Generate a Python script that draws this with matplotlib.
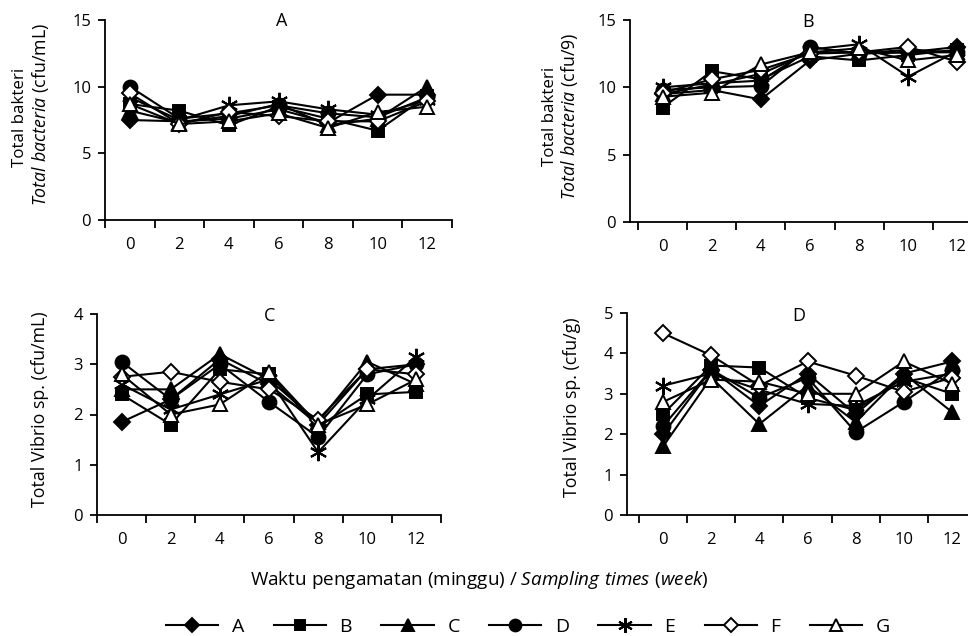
import matplotlib
matplotlib.use("Agg")
import matplotlib.pyplot as plt
from matplotlib.lines import Line2D

plt.rcParams['font.family'] = ['Open Sans', 'DejaVu Sans']
plt.rcParams['mathtext.fontset'] = 'custom'
plt.rcParams['mathtext.it'] = 'Open Sans:italic'
plt.rcParams['mathtext.rm'] = 'Open Sans'

weeks = [0, 2, 4, 6, 8, 10, 12]
groups = ['A', 'B', 'C', 'D', 'E', 'F', 'G']

# total bacteria, water (cfu/mL)
bact_water = {
    'A': [7.5, 7.4, 7.6, 8.3, 7.3, 9.4, 9.4],
    'B': [8.7, 8.2, 7.1, 8.5, 7.6, 6.7, 9.3],
    'C': [8.2, 7.3, 7.8, 8.7, 7.1, 7.6, 10.0],
    'D': [10.0, 7.6, 8.0, 8.6, 8.0, 7.7, 9.2],
    'E': [9.2, 7.5, 8.6, 8.9, 8.3, 7.9, 9.0],
    'F': [9.5, 7.2, 8.1, 7.8, 7.4, 7.4, 8.9],
    'G': [8.7, 7.2, 7.4, 8.0, 6.9, 8.1, 8.5],
}
# total bacteria, sediment (cfu/g)
bact_sed = {
    'A': [9.5, 9.8, 9.1, 12.0, 12.5, 12.6, 13.0],
    'B': [8.5, 11.2, 10.6, 12.3, 12.0, 12.4, 12.8],
    'C': [9.5, 10.2, 11.0, 12.6, 12.6, 12.6, 12.6],
    'D': [9.8, 10.0, 10.1, 13.0, 12.5, 12.8, 12.6],
    'E': [10.0, 10.3, 10.5, 12.8, 13.2, 10.8, 12.7],
    'F': [9.6, 10.6, 11.3, 12.5, 12.6, 13.0, 11.9],
    'G': [9.3, 9.6, 11.7, 12.6, 12.9, 12.0, 12.4],
}
# total Vibrio, water (cfu/mL)
vib_water = {
    'A': [1.85, 2.3, 3.1, 2.6, 1.8, 2.9, 3.0],
    'B': [2.4, 1.8, 2.9, 2.8, 1.75, 2.4, 2.45],
    'C': [2.5, 2.5, 3.2, 2.7, 1.85, 3.05, 2.6],
    'D': [3.05, 2.3, 3.0, 2.25, 1.55, 2.8, 3.0],
    'E': [2.6, 2.1, 2.4, 2.7, 1.25, 2.3, 3.15],
    'F': [2.75, 2.85, 2.65, 2.5, 1.9, 2.9, 2.8],
    'G': [2.8, 2.0, 2.2, 2.85, 1.8, 2.2, 2.7],
}
# total Vibrio, sediment (cfu/g)
vib_sed = {
    'A': [2.0, 3.6, 2.7, 3.5, 2.5, 3.5, 3.8],
    'B': [2.5, 3.7, 3.65, 2.9, 2.6, 3.4, 3.0],
    'C': [1.7, 3.4, 2.25, 3.2, 2.3, 3.5, 2.55],
    'D': [2.2, 3.6, 2.9, 3.4, 2.05, 2.8, 3.6],
    'E': [3.2, 3.5, 3.1, 2.75, 2.7, 3.3, 3.5],
    'F': [4.5, 3.95, 3.2, 3.8, 3.45, 3.05, 3.4],
    'G': [2.8, 3.35, 3.3, 3.0, 3.0, 3.8, 3.25],
}

styles = {
    'A': dict(marker='D', mfc='black', ms=8.5),
    'B': dict(marker='s', mfc='black', ms=9),
    'C': dict(marker='^', mfc='black', ms=10.5),
    'D': dict(marker='o', mfc='black', ms=10),
    'E': dict(marker=(6, 2, 0), mfc='black', ms=12.5, mew=1.5),
    'F': dict(marker='D', mfc='white', ms=8.5),
    'G': dict(marker='^', mfc='white', ms=10.5),
}

W, H = 968, 636
fig = plt.figure(figsize=(W / 100, H / 100), dpi=100)


def make_ax(left, right, top, bottom, xlim, ymax, ystep, data, title, tx, ty):
    ax = fig.add_axes([left / W, 1 - bottom / H, (right - left) / W, (bottom - top) / H])
    for g in groups:
        st = styles[g]
        ax.plot(weeks, data[g], color='black', lw=1.5, marker=st['marker'],
                mfc=st['mfc'], mec='black', ms=st['ms'], mew=st.get('mew', 1.4),
                clip_on=False)
    ax.set_xlim(*xlim)
    ax.set_ylim(0, ymax)
    ax.spines['top'].set_visible(False)
    ax.spines['right'].set_visible(False)
    ax.spines['left'].set_linewidth(1.3)
    ax.spines['bottom'].set_linewidth(1.3)
    ax.set_xticks(weeks)
    ax.set_xticks([-1, 1, 3, 5, 7, 9, 11, 13], minor=True)
    ax.tick_params(axis='x', which='major', length=0, pad=12, labelsize=12)
    ax.tick_params(axis='x', which='minor', length=6, width=1.3, direction='out')
    ax.set_yticks(list(range(0, ymax + 1, ystep)))
    ax.tick_params(axis='y', length=5, width=1.3, pad=5, labelsize=12)
    fig.text(tx / W, 1 - ty / H, title, ha='center', va='center', fontsize=13)
    return ax


make_ax(105, 452, 20, 220, (-1, 13), 15, 5, bact_water, 'A', 282, 21)
make_ax(630, 982, 20, 222, (-1.33, 13), 15, 5, bact_sed, 'B', 808, 22)
make_ax(97, 441, 314, 515, (-1, 13), 4, 1, vib_water, 'C', 270, 316)
make_ax(627, 976, 313, 515, (-1.5, 13), 5, 1, vib_sed, 'D', 799, 316)

# y labels
fs = 12.8
fig.text(20 / W, 1 - 117 / H, 'Total bakteri', rotation=90, ha='center', va='center', fontsize=12.2)
fig.text(41 / W, 1 - 115 / H, r'$\mathit{Total\ bacteria}$ (cfu/mL)', rotation=90,
         ha='center', va='center', fontsize=fs)
fig.text(550 / W, 1 - 116 / H, 'Total bakteri', rotation=90, ha='center', va='center', fontsize=12.2)
fig.text(570 / W, 1 - 116 / H, r'$\mathit{Total\ bacteria}$ (cfu/9)', rotation=90,
         ha='center', va='center', fontsize=fs)
fig.text(40 / W, 1 - 409 / H, 'Total Vibrio sp. (cfu/mL)', rotation=90,
         ha='center', va='center', fontsize=fs)
fig.text(572 / W, 1 - 407 / H, 'Total Vibrio sp. (cfu/g)', rotation=90,
         ha='center', va='center', fontsize=fs)

# x label
fig.text(479 / W, 1 - 580 / H, r'Waktu pengamatan (minggu) / $\mathit{Sampling\ times\ (week)}$',
         ha='center', va='center', fontsize=13.6)

# legend
handles = []
for g in groups:
    st = styles[g]
    handles.append(Line2D([], [], color='black', lw=1.5, marker=st['marker'], mfc=st['mfc'],
                          mec='black', ms=st['ms'] * 0.85, mew=st.get('mew', 1.4)))
fig.legend(handles, groups, loc='center', bbox_to_anchor=(528 / W, 1 - 627 / H), ncol=7,
           frameon=False, fontsize=14, handlelength=2.7, columnspacing=1.5, handletextpad=0.7,
           borderaxespad=0, borderpad=0)

fig.savefig('out.png', dpi=100)
